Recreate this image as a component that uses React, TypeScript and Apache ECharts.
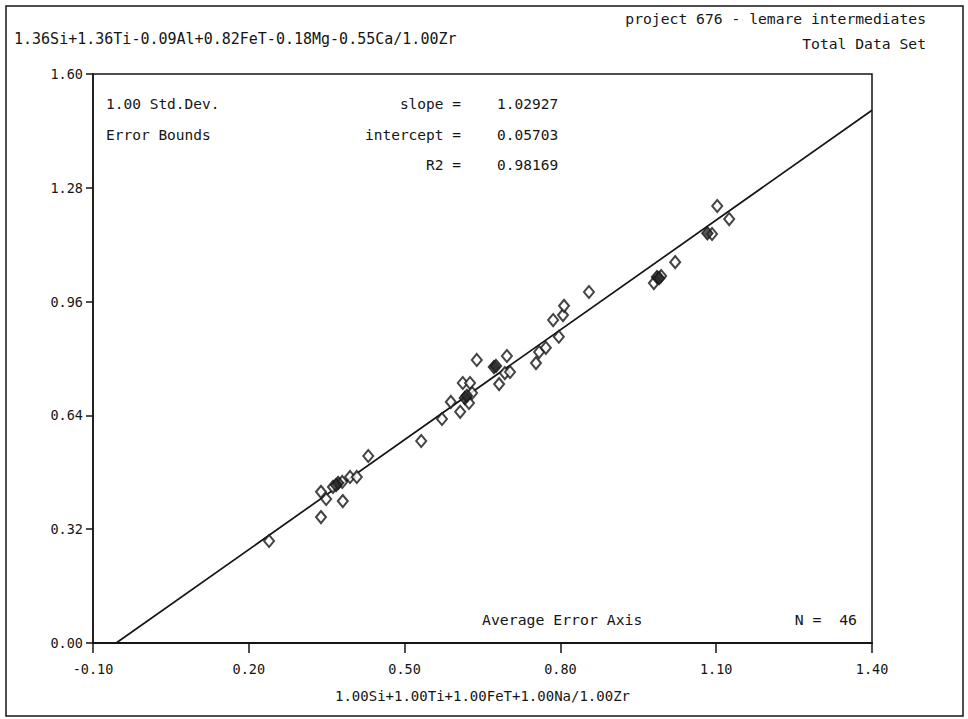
import React, { useEffect, useRef } from "react";
import * as echarts from "echarts";

// ---- data ----
const xTicks = [-0.1, 0.2, 0.5, 0.8, 1.1, 1.4];
const yTicks = [0, 0.32, 0.64, 0.96, 1.28, 1.6];

const slope = 1.02927;
const intercept = 0.05703;
const r2 = 0.98169;
const nPoints = 46;

// open diamonds [x, y]
const openPoints: [number, number][] = [
  [0.239, 0.287],
  [0.339, 0.354],
  [0.339, 0.425],
  [0.349, 0.405],
  [0.362, 0.439],
  [0.38, 0.453],
  [0.381, 0.399],
  [0.395, 0.467],
  [0.408, 0.467],
  [0.43, 0.526],
  [0.532, 0.568],
  [0.572, 0.63],
  [0.589, 0.678],
  [0.607, 0.65],
  [0.612, 0.731],
  [0.626, 0.731],
  [0.63, 0.703],
  [0.624, 0.675],
  [0.639, 0.796],
  [0.682, 0.728],
  [0.693, 0.759],
  [0.697, 0.807],
  [0.703, 0.762],
  [0.753, 0.787],
  [0.759, 0.818],
  [0.772, 0.83],
  [0.797, 0.861],
  [0.786, 0.908],
  [0.805, 0.922],
  [0.807, 0.948],
  [0.855, 0.987],
  [0.98, 1.012],
  [0.994, 1.032],
  [1.021, 1.071],
  [1.092, 1.15],
  [1.102, 1.229],
  [1.125, 1.192],
];

// overlapping points that print as dark blobs [x, y]
const filledPoints: [number, number][] = [
  [0.372, 0.45],
  [0.368, 0.444],
  [0.616, 0.689],
  [0.62, 0.695],
  [0.672, 0.776],
  [0.676, 0.779],
  [0.986, 1.029],
  [0.99, 1.026],
  [1.083, 1.152],
];

const leftHeader = "1.36Si+1.36Ti-0.09Al+0.82FeT-0.18Mg-0.55Ca/1.00Zr";
const rightHeader1 = "project 676 - lemare intermediates";
const rightHeader2 = "Total Data Set";
const xAxisName = "1.00Si+1.00Ti+1.00FeT+1.00Na/1.00Zr";

const MONO = "'DejaVu Sans Mono', 'Liberation Mono', monospace";
const INK = "#151515";

export default function App() {
  const ref = useRef<HTMLDivElement>(null);

  useEffect(() => {
    document.body.style.margin = "0";
    if (!ref.current) return;
    const chart = echarts.init(ref.current, undefined, { renderer: "svg" });

    const xMin = xTicks[0];
    const xMax = xTicks[xTicks.length - 1];
    const lineStartX = -intercept / slope;
    const lineData = [
      [lineStartX, 0],
      [xMax, slope * xMax + intercept],
    ];

    const txt = (
      text: string,
      x: number,
      y: number,
      align: "left" | "right" | "center" = "left",
      size = 14.5
    ) => ({
      type: "text",
      x,
      y,
      silent: true,
      style: {
        text,
        fill: INK,
        font: `${size}px ${MONO}`,
        align,
        verticalAlign: "middle",
      },
    });

    chart.setOption({
      animation: false,
      backgroundColor: "#ffffff",
      grid: {
        left: 93,
        right: 96,
        top: 74,
        bottom: 76,
        show: true,
        borderColor: INK,
        borderWidth: 1.5,
        backgroundColor: "transparent",
      },
      xAxis: {
        type: "value",
        min: xMin,
        max: xMax,
        name: xAxisName,
        nameLocation: "middle",
        nameGap: 46,
        nameTextStyle: { color: INK, fontFamily: MONO, fontSize: 14 },
        axisLine: { show: true, onZero: false, lineStyle: { color: INK, width: 2 } },
        axisTick: {
          show: true,
          inside: false,
          length: 10,
          customValues: xTicks,
          lineStyle: { color: INK, width: 1.5 },
        },
        axisLabel: {
          show: true,
          customValues: xTicks,
          margin: 19,
          color: INK,
          fontFamily: MONO,
          fontSize: 13.5,
          formatter: (v: number) => v.toFixed(2),
        },
        splitLine: { show: false },
      },
      yAxis: {
        type: "value",
        min: yTicks[0],
        max: yTicks[yTicks.length - 1],
        interval: 0.32,
        axisLine: { show: true, onZero: false, lineStyle: { color: INK, width: 1.5 } },
        axisTick: {
          show: true,
          inside: false,
          length: 7,
          lineStyle: { color: INK, width: 1.5 },
        },
        axisLabel: {
          show: true,
          margin: 10,
          color: INK,
          fontFamily: MONO,
          fontSize: 13.5,
          formatter: (v: number) => v.toFixed(2),
        },
        splitLine: { show: false },
      },
      series: [
        {
          type: "line",
          data: lineData,
          showSymbol: false,
          symbol: "none",
          lineStyle: { color: INK, width: 1.7 },
          z: 2,
          silent: true,
        },
        {
          type: "scatter",
          data: openPoints,
          symbol: "diamond",
          symbolSize: [10, 12],
          itemStyle: { color: "#ffffff", borderColor: INK, borderWidth: 2 },
          z: 3,
          silent: true,
        },
        {
          type: "scatter",
          data: filledPoints,
          symbol: "diamond",
          symbolSize: [11, 13],
          itemStyle: { color: "#2a2a2a", borderColor: INK, borderWidth: 1.5 },
          z: 4,
          silent: true,
        },
      ],
      graphic: [
        {
          type: "rect",
          shape: { x: 6, y: 6, width: 957, height: 710 },
          silent: true,
          style: { fill: "none", stroke: INK, lineWidth: 1.5 },
        },
        txt(leftHeader, 14, 39, "left", 15),
        txt(rightHeader1, 926, 18, "right", 14.7),
        txt(rightHeader2, 926, 43, "right", 14.7),
        txt("1.00 Std.Dev.", 106, 104),
        txt("Error Bounds", 106, 135),
        txt("slope =", 461, 104, "right"),
        txt("intercept =", 461, 135, "right"),
        txt("R2 =", 461, 165, "right"),
        txt(slope.toFixed(5), 497, 104),
        txt(intercept.toFixed(5), 497, 135),
        txt(r2.toFixed(5), 497, 165),
        txt("Average Error Axis", 482, 619, "left", 14.8),
        txt(`N =  ${nPoints}`, 857, 619, "right", 14.8),
      ],
    });

    return () => chart.dispose();
  }, []);

  return <div ref={ref} style={{ width: 968, height: 719 }} />;
}
